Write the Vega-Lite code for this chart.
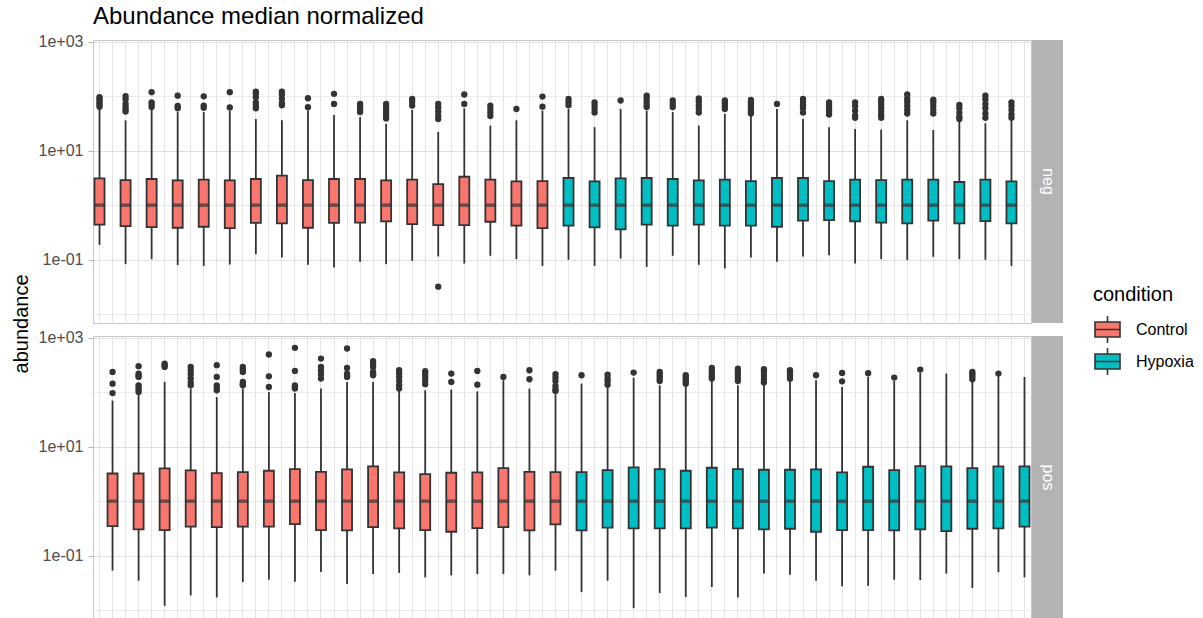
{
  "$schema": "https://vega.github.io/schema/vega-lite/v6.json",
  "padding": {"left": 12, "top": 5, "right": 0, "bottom": 0},
  "title": {"text": "Abundance median normalized", "anchor": "start", "frame": "group", "dx": 81, "offset": 4, "fontSize": 24, "fontWeight": "normal", "color": "#000000"},
  "config": {
    "font": "Liberation Sans",
    "view": {"stroke": "#c6c6c6", "strokeWidth": 1}
  },
  "datasets": {
    "boxes": [
      {"sample": "C01_neg", "mode": "neg", "condition": "Control", "lower": 0.187, "q1": 0.438, "median": 1, "q3": 3.10, "upper": 58},
      {"sample": "C02_neg", "mode": "neg", "condition": "Control", "lower": 0.0828, "q1": 0.413, "median": 1, "q3": 2.89, "upper": 36},
      {"sample": "C03_neg", "mode": "neg", "condition": "Control", "lower": 0.102, "q1": 0.396, "median": 1, "q3": 3.02, "upper": 60},
      {"sample": "C04_neg", "mode": "neg", "condition": "Control", "lower": 0.0794, "q1": 0.385, "median": 1, "q3": 2.85, "upper": 51},
      {"sample": "C05_neg", "mode": "neg", "condition": "Control", "lower": 0.077, "q1": 0.402, "median": 1, "q3": 2.93, "upper": 51},
      {"sample": "C06_neg", "mode": "neg", "condition": "Control", "lower": 0.0817, "q1": 0.379, "median": 1, "q3": 2.85, "upper": 54},
      {"sample": "C07_neg", "mode": "neg", "condition": "Control", "lower": 0.126, "q1": 0.475, "median": 1, "q3": 3.02, "upper": 38},
      {"sample": "C08_neg", "mode": "neg", "condition": "Control", "lower": 0.110, "q1": 0.462, "median": 1, "q3": 3.47, "upper": 36},
      {"sample": "C09_neg", "mode": "neg", "condition": "Control", "lower": 0.0805, "q1": 0.385, "median": 1, "q3": 2.89, "upper": 54},
      {"sample": "C10_neg", "mode": "neg", "condition": "Control", "lower": 0.0719, "q1": 0.475, "median": 1, "q3": 3.02, "upper": 45},
      {"sample": "C11_neg", "mode": "neg", "condition": "Control", "lower": 0.0914, "q1": 0.48, "median": 1, "q3": 3.02, "upper": 41},
      {"sample": "C12_neg", "mode": "neg", "condition": "Control", "lower": 0.0828, "q1": 0.503, "median": 1, "q3": 2.85, "upper": 31},
      {"sample": "C13_neg", "mode": "neg", "condition": "Control", "lower": 0.0953, "q1": 0.45, "median": 1, "q3": 2.93, "upper": 56},
      {"sample": "C14_neg", "mode": "neg", "condition": "Control", "lower": 0.1146, "q1": 0.431, "median": 1, "q3": 2.44, "upper": 22},
      {"sample": "C15_neg", "mode": "neg", "condition": "Control", "lower": 0.0851, "q1": 0.431, "median": 1, "q3": 3.32, "upper": 60},
      {"sample": "C16_neg", "mode": "neg", "condition": "Control", "lower": 0.118, "q1": 0.496, "median": 1, "q3": 2.93, "upper": 28.8},
      {"sample": "C17_neg", "mode": "neg", "condition": "Control", "lower": 0.102, "q1": 0.42, "median": 1, "q3": 2.73, "upper": 36},
      {"sample": "C18_neg", "mode": "neg", "condition": "Control", "lower": 0.077, "q1": 0.379, "median": 1, "q3": 2.77, "upper": 54},
      {"sample": "H01_neg", "mode": "neg", "condition": "Hypoxia", "lower": 0.0995, "q1": 0.42, "median": 1, "q3": 3.15, "upper": 58},
      {"sample": "H02_neg", "mode": "neg", "condition": "Hypoxia", "lower": 0.077, "q1": 0.39, "median": 1, "q3": 2.73, "upper": 27},
      {"sample": "H03_neg", "mode": "neg", "condition": "Hypoxia", "lower": 0.105, "q1": 0.36, "median": 1, "q3": 3.10, "upper": 58},
      {"sample": "H04_neg", "mode": "neg", "condition": "Hypoxia", "lower": 0.0739, "q1": 0.438, "median": 1, "q3": 3.15, "upper": 54},
      {"sample": "H05_neg", "mode": "neg", "condition": "Hypoxia", "lower": 0.118, "q1": 0.42, "median": 1, "q3": 3.02, "upper": 51},
      {"sample": "H06_neg", "mode": "neg", "condition": "Hypoxia", "lower": 0.0805, "q1": 0.438, "median": 1, "q3": 2.85, "upper": 28.8},
      {"sample": "H07_neg", "mode": "neg", "condition": "Hypoxia", "lower": 0.069, "q1": 0.42, "median": 1, "q3": 2.93, "upper": 47},
      {"sample": "H08_neg", "mode": "neg", "condition": "Hypoxia", "lower": 0.110, "q1": 0.42, "median": 1, "q3": 2.77, "upper": 44},
      {"sample": "H09_neg", "mode": "neg", "condition": "Hypoxia", "lower": 0.0914, "q1": 0.402, "median": 1, "q3": 3.15, "upper": 58},
      {"sample": "H10_neg", "mode": "neg", "condition": "Hypoxia", "lower": 0.1146, "q1": 0.52, "median": 1, "q3": 3.15, "upper": 38},
      {"sample": "H11_neg", "mode": "neg", "condition": "Hypoxia", "lower": 0.121, "q1": 0.532, "median": 1, "q3": 2.77, "upper": 27},
      {"sample": "H12_neg", "mode": "neg", "condition": "Hypoxia", "lower": 0.0851, "q1": 0.503, "median": 1, "q3": 2.93, "upper": 25},
      {"sample": "H13_neg", "mode": "neg", "condition": "Hypoxia", "lower": 0.102, "q1": 0.48, "median": 1, "q3": 2.89, "upper": 24.3},
      {"sample": "H14_neg", "mode": "neg", "condition": "Hypoxia", "lower": 0.098, "q1": 0.462, "median": 1, "q3": 2.93, "upper": 36},
      {"sample": "H15_neg", "mode": "neg", "condition": "Hypoxia", "lower": 0.113, "q1": 0.52, "median": 1, "q3": 2.93, "upper": 24},
      {"sample": "H16_neg", "mode": "neg", "condition": "Hypoxia", "lower": 0.102, "q1": 0.462, "median": 1, "q3": 2.66, "upper": 36},
      {"sample": "H17_neg", "mode": "neg", "condition": "Hypoxia", "lower": 0.0995, "q1": 0.51, "median": 1, "q3": 2.93, "upper": 31.8},
      {"sample": "H18_neg", "mode": "neg", "condition": "Hypoxia", "lower": 0.077, "q1": 0.462, "median": 1, "q3": 2.73, "upper": 36},
      {"sample": "C01_pos", "mode": "pos", "condition": "Control", "lower": 0.0532, "q1": 0.349, "median": 1, "q3": 3.22, "upper": 70},
      {"sample": "C02_pos", "mode": "pos", "condition": "Control", "lower": 0.0348, "q1": 0.303, "median": 1, "q3": 3.22, "upper": 92},
      {"sample": "C03_pos", "mode": "pos", "condition": "Control", "lower": 0.0120, "q1": 0.295, "median": 1, "q3": 3.98, "upper": 154},
      {"sample": "C04_pos", "mode": "pos", "condition": "Control", "lower": 0.0187, "q1": 0.34, "median": 1, "q3": 3.66, "upper": 116},
      {"sample": "C05_pos", "mode": "pos", "condition": "Control", "lower": 0.0171, "q1": 0.335, "median": 1, "q3": 3.27, "upper": 81},
      {"sample": "C06_pos", "mode": "pos", "condition": "Control", "lower": 0.0329, "q1": 0.34, "median": 1, "q3": 3.41, "upper": 116},
      {"sample": "C07_pos", "mode": "pos", "condition": "Control", "lower": 0.0363, "q1": 0.34, "median": 1, "q3": 3.61, "upper": 100},
      {"sample": "C08_pos", "mode": "pos", "condition": "Control", "lower": 0.0333, "q1": 0.38, "median": 1, "q3": 3.87, "upper": 96},
      {"sample": "C09_pos", "mode": "pos", "condition": "Control", "lower": 0.0503, "q1": 0.295, "median": 1, "q3": 3.46, "upper": 116},
      {"sample": "C10_pos", "mode": "pos", "condition": "Control", "lower": 0.0302, "q1": 0.291, "median": 1, "q3": 3.82, "upper": 154},
      {"sample": "C11_pos", "mode": "pos", "condition": "Control", "lower": 0.0462, "q1": 0.335, "median": 1, "q3": 4.34, "upper": 154},
      {"sample": "C12_pos", "mode": "pos", "condition": "Control", "lower": 0.0482, "q1": 0.316, "median": 1, "q3": 3.36, "upper": 108},
      {"sample": "C13_pos", "mode": "pos", "condition": "Control", "lower": 0.0401, "q1": 0.295, "median": 1, "q3": 3.13, "upper": 108},
      {"sample": "C14_pos", "mode": "pos", "condition": "Control", "lower": 0.0436, "q1": 0.275, "median": 1, "q3": 3.32, "upper": 111},
      {"sample": "C15_pos", "mode": "pos", "condition": "Control", "lower": 0.0462, "q1": 0.321, "median": 1, "q3": 3.36, "upper": 103},
      {"sample": "C16_pos", "mode": "pos", "condition": "Control", "lower": 0.0462, "q1": 0.335, "median": 1, "q3": 4.04, "upper": 165},
      {"sample": "C17_pos", "mode": "pos", "condition": "Control", "lower": 0.0436, "q1": 0.291, "median": 1, "q3": 3.46, "upper": 116},
      {"sample": "C18_pos", "mode": "pos", "condition": "Control", "lower": 0.0532, "q1": 0.375, "median": 1, "q3": 3.41, "upper": 91},
      {"sample": "H01_pos", "mode": "pos", "condition": "Hypoxia", "lower": 0.0215, "q1": 0.291, "median": 1, "q3": 3.41, "upper": 143},
      {"sample": "H02_pos", "mode": "pos", "condition": "Hypoxia", "lower": 0.0348, "q1": 0.326, "median": 1, "q3": 3.71, "upper": 124},
      {"sample": "H03_pos", "mode": "pos", "condition": "Hypoxia", "lower": 0.0109, "q1": 0.316, "median": 1, "q3": 4.16, "upper": 184},
      {"sample": "H04_pos", "mode": "pos", "condition": "Hypoxia", "lower": 0.0206, "q1": 0.316, "median": 1, "q3": 3.87, "upper": 133},
      {"sample": "H05_pos", "mode": "pos", "condition": "Hypoxia", "lower": 0.0174, "q1": 0.316, "median": 1, "q3": 3.61, "upper": 135},
      {"sample": "H06_pos", "mode": "pos", "condition": "Hypoxia", "lower": 0.0266, "q1": 0.326, "median": 1, "q3": 4.10, "upper": 160},
      {"sample": "H07_pos", "mode": "pos", "condition": "Hypoxia", "lower": 0.0171, "q1": 0.316, "median": 1, "q3": 3.87, "upper": 133},
      {"sample": "H08_pos", "mode": "pos", "condition": "Hypoxia", "lower": 0.0469, "q1": 0.303, "median": 1, "q3": 3.77, "upper": 143},
      {"sample": "H09_pos", "mode": "pos", "condition": "Hypoxia", "lower": 0.0449, "q1": 0.312, "median": 1, "q3": 3.77, "upper": 154},
      {"sample": "H10_pos", "mode": "pos", "condition": "Hypoxia", "lower": 0.0348, "q1": 0.275, "median": 1, "q3": 3.82, "upper": 165},
      {"sample": "H11_pos", "mode": "pos", "condition": "Hypoxia", "lower": 0.0274, "q1": 0.295, "median": 1, "q3": 3.36, "upper": 124},
      {"sample": "H12_pos", "mode": "pos", "condition": "Hypoxia", "lower": 0.0281, "q1": 0.295, "median": 1, "q3": 4.28, "upper": 190},
      {"sample": "H13_pos", "mode": "pos", "condition": "Hypoxia", "lower": 0.0363, "q1": 0.291, "median": 1, "q3": 3.71, "upper": 160},
      {"sample": "H14_pos", "mode": "pos", "condition": "Hypoxia", "lower": 0.0358, "q1": 0.303, "median": 1, "q3": 4.40, "upper": 225},
      {"sample": "H15_pos", "mode": "pos", "condition": "Hypoxia", "lower": 0.0469, "q1": 0.283, "median": 1, "q3": 4.34, "upper": 219},
      {"sample": "H16_pos", "mode": "pos", "condition": "Hypoxia", "lower": 0.0255, "q1": 0.312, "median": 1, "q3": 4.04, "upper": 165},
      {"sample": "H17_pos", "mode": "pos", "condition": "Hypoxia", "lower": 0.0496, "q1": 0.316, "median": 1, "q3": 4.34, "upper": 195},
      {"sample": "H18_pos", "mode": "pos", "condition": "Hypoxia", "lower": 0.0401, "q1": 0.34, "median": 1, "q3": 4.34, "upper": 190}
    ],
    "outliers": [
      {"sample": "C01_neg", "mode": "neg", "value": 64}, {"sample": "C01_neg", "mode": "neg", "value": 70}, {"sample": "C01_neg", "mode": "neg", "value": 76}, {"sample": "C01_neg", "mode": "neg", "value": 83}, {"sample": "C01_neg", "mode": "neg", "value": 90}, {"sample": "C01_neg", "mode": "neg", "value": 96},
      {"sample": "C02_neg", "mode": "neg", "value": 52}, {"sample": "C02_neg", "mode": "neg", "value": 57}, {"sample": "C02_neg", "mode": "neg", "value": 63}, {"sample": "C02_neg", "mode": "neg", "value": 72}, {"sample": "C02_neg", "mode": "neg", "value": 88}, {"sample": "C02_neg", "mode": "neg", "value": 100},
      {"sample": "C03_neg", "mode": "neg", "value": 63}, {"sample": "C03_neg", "mode": "neg", "value": 70}, {"sample": "C03_neg", "mode": "neg", "value": 77}, {"sample": "C03_neg", "mode": "neg", "value": 118},
      {"sample": "C04_neg", "mode": "neg", "value": 60}, {"sample": "C04_neg", "mode": "neg", "value": 66}, {"sample": "C04_neg", "mode": "neg", "value": 102},
      {"sample": "C05_neg", "mode": "neg", "value": 61}, {"sample": "C05_neg", "mode": "neg", "value": 67}, {"sample": "C05_neg", "mode": "neg", "value": 99},
      {"sample": "C06_neg", "mode": "neg", "value": 62}, {"sample": "C06_neg", "mode": "neg", "value": 118},
      {"sample": "C07_neg", "mode": "neg", "value": 60}, {"sample": "C07_neg", "mode": "neg", "value": 67}, {"sample": "C07_neg", "mode": "neg", "value": 77}, {"sample": "C07_neg", "mode": "neg", "value": 95}, {"sample": "C07_neg", "mode": "neg", "value": 110}, {"sample": "C07_neg", "mode": "neg", "value": 121},
      {"sample": "C08_neg", "mode": "neg", "value": 68}, {"sample": "C08_neg", "mode": "neg", "value": 75}, {"sample": "C08_neg", "mode": "neg", "value": 90}, {"sample": "C08_neg", "mode": "neg", "value": 108}, {"sample": "C08_neg", "mode": "neg", "value": 121},
      {"sample": "C09_neg", "mode": "neg", "value": 62.5}, {"sample": "C09_neg", "mode": "neg", "value": 91.5},
      {"sample": "C10_neg", "mode": "neg", "value": 72}, {"sample": "C10_neg", "mode": "neg", "value": 110},
      {"sample": "C11_neg", "mode": "neg", "value": 51}, {"sample": "C11_neg", "mode": "neg", "value": 57}, {"sample": "C11_neg", "mode": "neg", "value": 64}, {"sample": "C11_neg", "mode": "neg", "value": 72},
      {"sample": "C12_neg", "mode": "neg", "value": 39}, {"sample": "C12_neg", "mode": "neg", "value": 44}, {"sample": "C12_neg", "mode": "neg", "value": 50}, {"sample": "C12_neg", "mode": "neg", "value": 56}, {"sample": "C12_neg", "mode": "neg", "value": 64}, {"sample": "C12_neg", "mode": "neg", "value": 72},
      {"sample": "C13_neg", "mode": "neg", "value": 67}, {"sample": "C13_neg", "mode": "neg", "value": 78}, {"sample": "C13_neg", "mode": "neg", "value": 89},
      {"sample": "C14_neg", "mode": "neg", "value": 0.032}, {"sample": "C14_neg", "mode": "neg", "value": 38}, {"sample": "C14_neg", "mode": "neg", "value": 44}, {"sample": "C14_neg", "mode": "neg", "value": 52}, {"sample": "C14_neg", "mode": "neg", "value": 62}, {"sample": "C14_neg", "mode": "neg", "value": 72},
      {"sample": "C15_neg", "mode": "neg", "value": 72}, {"sample": "C15_neg", "mode": "neg", "value": 107},
      {"sample": "C16_neg", "mode": "neg", "value": 43}, {"sample": "C16_neg", "mode": "neg", "value": 50}, {"sample": "C16_neg", "mode": "neg", "value": 58}, {"sample": "C16_neg", "mode": "neg", "value": 67},
      {"sample": "C17_neg", "mode": "neg", "value": 58},
      {"sample": "C18_neg", "mode": "neg", "value": 64}, {"sample": "C18_neg", "mode": "neg", "value": 98},
      {"sample": "H01_neg", "mode": "neg", "value": 68}, {"sample": "H01_neg", "mode": "neg", "value": 78}, {"sample": "H01_neg", "mode": "neg", "value": 89},
      {"sample": "H02_neg", "mode": "neg", "value": 50}, {"sample": "H02_neg", "mode": "neg", "value": 58}, {"sample": "H02_neg", "mode": "neg", "value": 67}, {"sample": "H02_neg", "mode": "neg", "value": 77},
      {"sample": "H03_neg", "mode": "neg", "value": 83},
      {"sample": "H04_neg", "mode": "neg", "value": 63}, {"sample": "H04_neg", "mode": "neg", "value": 68}, {"sample": "H04_neg", "mode": "neg", "value": 78}, {"sample": "H04_neg", "mode": "neg", "value": 90}, {"sample": "H04_neg", "mode": "neg", "value": 102},
      {"sample": "H05_neg", "mode": "neg", "value": 63}, {"sample": "H05_neg", "mode": "neg", "value": 72}, {"sample": "H05_neg", "mode": "neg", "value": 83},
      {"sample": "H06_neg", "mode": "neg", "value": 50}, {"sample": "H06_neg", "mode": "neg", "value": 58}, {"sample": "H06_neg", "mode": "neg", "value": 68}, {"sample": "H06_neg", "mode": "neg", "value": 80}, {"sample": "H06_neg", "mode": "neg", "value": 91},
      {"sample": "H07_neg", "mode": "neg", "value": 58}, {"sample": "H07_neg", "mode": "neg", "value": 66}, {"sample": "H07_neg", "mode": "neg", "value": 74}, {"sample": "H07_neg", "mode": "neg", "value": 83},
      {"sample": "H08_neg", "mode": "neg", "value": 48}, {"sample": "H08_neg", "mode": "neg", "value": 52}, {"sample": "H08_neg", "mode": "neg", "value": 60}, {"sample": "H08_neg", "mode": "neg", "value": 68}, {"sample": "H08_neg", "mode": "neg", "value": 76}, {"sample": "H08_neg", "mode": "neg", "value": 85},
      {"sample": "H09_neg", "mode": "neg", "value": 72},
      {"sample": "H10_neg", "mode": "neg", "value": 50}, {"sample": "H10_neg", "mode": "neg", "value": 60}, {"sample": "H10_neg", "mode": "neg", "value": 68}, {"sample": "H10_neg", "mode": "neg", "value": 78}, {"sample": "H10_neg", "mode": "neg", "value": 89},
      {"sample": "H11_neg", "mode": "neg", "value": 46}, {"sample": "H11_neg", "mode": "neg", "value": 52}, {"sample": "H11_neg", "mode": "neg", "value": 60}, {"sample": "H11_neg", "mode": "neg", "value": 68}, {"sample": "H11_neg", "mode": "neg", "value": 77},
      {"sample": "H12_neg", "mode": "neg", "value": 40}, {"sample": "H12_neg", "mode": "neg", "value": 44}, {"sample": "H12_neg", "mode": "neg", "value": 54}, {"sample": "H12_neg", "mode": "neg", "value": 66}, {"sample": "H12_neg", "mode": "neg", "value": 77},
      {"sample": "H13_neg", "mode": "neg", "value": 40}, {"sample": "H13_neg", "mode": "neg", "value": 45}, {"sample": "H13_neg", "mode": "neg", "value": 52}, {"sample": "H13_neg", "mode": "neg", "value": 60}, {"sample": "H13_neg", "mode": "neg", "value": 70}, {"sample": "H13_neg", "mode": "neg", "value": 80}, {"sample": "H13_neg", "mode": "neg", "value": 89},
      {"sample": "H14_neg", "mode": "neg", "value": 48}, {"sample": "H14_neg", "mode": "neg", "value": 56}, {"sample": "H14_neg", "mode": "neg", "value": 66}, {"sample": "H14_neg", "mode": "neg", "value": 78}, {"sample": "H14_neg", "mode": "neg", "value": 90}, {"sample": "H14_neg", "mode": "neg", "value": 107},
      {"sample": "H15_neg", "mode": "neg", "value": 48}, {"sample": "H15_neg", "mode": "neg", "value": 56}, {"sample": "H15_neg", "mode": "neg", "value": 66}, {"sample": "H15_neg", "mode": "neg", "value": 76}, {"sample": "H15_neg", "mode": "neg", "value": 86},
      {"sample": "H16_neg", "mode": "neg", "value": 38}, {"sample": "H16_neg", "mode": "neg", "value": 42}, {"sample": "H16_neg", "mode": "neg", "value": 50}, {"sample": "H16_neg", "mode": "neg", "value": 60}, {"sample": "H16_neg", "mode": "neg", "value": 69},
      {"sample": "H17_neg", "mode": "neg", "value": 40}, {"sample": "H17_neg", "mode": "neg", "value": 48}, {"sample": "H17_neg", "mode": "neg", "value": 60}, {"sample": "H17_neg", "mode": "neg", "value": 72}, {"sample": "H17_neg", "mode": "neg", "value": 88}, {"sample": "H17_neg", "mode": "neg", "value": 102},
      {"sample": "H18_neg", "mode": "neg", "value": 40}, {"sample": "H18_neg", "mode": "neg", "value": 46}, {"sample": "H18_neg", "mode": "neg", "value": 56}, {"sample": "H18_neg", "mode": "neg", "value": 66}, {"sample": "H18_neg", "mode": "neg", "value": 77},
      {"sample": "C01_pos", "mode": "pos", "value": 96}, {"sample": "C01_pos", "mode": "pos", "value": 143}, {"sample": "C01_pos", "mode": "pos", "value": 235},
      {"sample": "C02_pos", "mode": "pos", "value": 100}, {"sample": "C02_pos", "mode": "pos", "value": 110}, {"sample": "C02_pos", "mode": "pos", "value": 120}, {"sample": "C02_pos", "mode": "pos", "value": 133}, {"sample": "C02_pos", "mode": "pos", "value": 190}, {"sample": "C02_pos", "mode": "pos", "value": 200}, {"sample": "C02_pos", "mode": "pos", "value": 219}, {"sample": "C02_pos", "mode": "pos", "value": 299},
      {"sample": "C03_pos", "mode": "pos", "value": 290}, {"sample": "C03_pos", "mode": "pos", "value": 310}, {"sample": "C03_pos", "mode": "pos", "value": 334},
      {"sample": "C04_pos", "mode": "pos", "value": 133}, {"sample": "C04_pos", "mode": "pos", "value": 150}, {"sample": "C04_pos", "mode": "pos", "value": 180}, {"sample": "C04_pos", "mode": "pos", "value": 215}, {"sample": "C04_pos", "mode": "pos", "value": 250}, {"sample": "C04_pos", "mode": "pos", "value": 290},
      {"sample": "C05_pos", "mode": "pos", "value": 108}, {"sample": "C05_pos", "mode": "pos", "value": 120}, {"sample": "C05_pos", "mode": "pos", "value": 133}, {"sample": "C05_pos", "mode": "pos", "value": 190}, {"sample": "C05_pos", "mode": "pos", "value": 312},
      {"sample": "C06_pos", "mode": "pos", "value": 133}, {"sample": "C06_pos", "mode": "pos", "value": 140}, {"sample": "C06_pos", "mode": "pos", "value": 154}, {"sample": "C06_pos", "mode": "pos", "value": 235}, {"sample": "C06_pos", "mode": "pos", "value": 260}, {"sample": "C06_pos", "mode": "pos", "value": 290},
      {"sample": "C07_pos", "mode": "pos", "value": 124}, {"sample": "C07_pos", "mode": "pos", "value": 195}, {"sample": "C07_pos", "mode": "pos", "value": 490},
      {"sample": "C08_pos", "mode": "pos", "value": 116}, {"sample": "C08_pos", "mode": "pos", "value": 124}, {"sample": "C08_pos", "mode": "pos", "value": 133}, {"sample": "C08_pos", "mode": "pos", "value": 245}, {"sample": "C08_pos", "mode": "pos", "value": 650},
      {"sample": "C09_pos", "mode": "pos", "value": 177}, {"sample": "C09_pos", "mode": "pos", "value": 210}, {"sample": "C09_pos", "mode": "pos", "value": 250}, {"sample": "C09_pos", "mode": "pos", "value": 290}, {"sample": "C09_pos", "mode": "pos", "value": 413},
      {"sample": "C10_pos", "mode": "pos", "value": 190}, {"sample": "C10_pos", "mode": "pos", "value": 200}, {"sample": "C10_pos", "mode": "pos", "value": 219}, {"sample": "C10_pos", "mode": "pos", "value": 278}, {"sample": "C10_pos", "mode": "pos", "value": 632},
      {"sample": "C11_pos", "mode": "pos", "value": 204}, {"sample": "C11_pos", "mode": "pos", "value": 215}, {"sample": "C11_pos", "mode": "pos", "value": 235}, {"sample": "C11_pos", "mode": "pos", "value": 290}, {"sample": "C11_pos", "mode": "pos", "value": 330}, {"sample": "C11_pos", "mode": "pos", "value": 369},
      {"sample": "C12_pos", "mode": "pos", "value": 116}, {"sample": "C12_pos", "mode": "pos", "value": 133}, {"sample": "C12_pos", "mode": "pos", "value": 160}, {"sample": "C12_pos", "mode": "pos", "value": 190}, {"sample": "C12_pos", "mode": "pos", "value": 220}, {"sample": "C12_pos", "mode": "pos", "value": 252},
      {"sample": "C13_pos", "mode": "pos", "value": 140}, {"sample": "C13_pos", "mode": "pos", "value": 165}, {"sample": "C13_pos", "mode": "pos", "value": 190}, {"sample": "C13_pos", "mode": "pos", "value": 215}, {"sample": "C13_pos", "mode": "pos", "value": 242},
      {"sample": "C14_pos", "mode": "pos", "value": 154}, {"sample": "C14_pos", "mode": "pos", "value": 219},
      {"sample": "C15_pos", "mode": "pos", "value": 137}, {"sample": "C15_pos", "mode": "pos", "value": 245},
      {"sample": "C16_pos", "mode": "pos", "value": 190},
      {"sample": "C17_pos", "mode": "pos", "value": 172}, {"sample": "C17_pos", "mode": "pos", "value": 252},
      {"sample": "C18_pos", "mode": "pos", "value": 105}, {"sample": "C18_pos", "mode": "pos", "value": 112}, {"sample": "C18_pos", "mode": "pos", "value": 130}, {"sample": "C18_pos", "mode": "pos", "value": 160}, {"sample": "C18_pos", "mode": "pos", "value": 185}, {"sample": "C18_pos", "mode": "pos", "value": 213},
      {"sample": "H01_pos", "mode": "pos", "value": 204},
      {"sample": "H02_pos", "mode": "pos", "value": 137}, {"sample": "H02_pos", "mode": "pos", "value": 158}, {"sample": "H02_pos", "mode": "pos", "value": 180}, {"sample": "H02_pos", "mode": "pos", "value": 210},
      {"sample": "H03_pos", "mode": "pos", "value": 228},
      {"sample": "H04_pos", "mode": "pos", "value": 160}, {"sample": "H04_pos", "mode": "pos", "value": 175}, {"sample": "H04_pos", "mode": "pos", "value": 195}, {"sample": "H04_pos", "mode": "pos", "value": 215}, {"sample": "H04_pos", "mode": "pos", "value": 235},
      {"sample": "H05_pos", "mode": "pos", "value": 143}, {"sample": "H05_pos", "mode": "pos", "value": 155}, {"sample": "H05_pos", "mode": "pos", "value": 170}, {"sample": "H05_pos", "mode": "pos", "value": 185}, {"sample": "H05_pos", "mode": "pos", "value": 204},
      {"sample": "H06_pos", "mode": "pos", "value": 177}, {"sample": "H06_pos", "mode": "pos", "value": 195}, {"sample": "H06_pos", "mode": "pos", "value": 220}, {"sample": "H06_pos", "mode": "pos", "value": 250}, {"sample": "H06_pos", "mode": "pos", "value": 278},
      {"sample": "H07_pos", "mode": "pos", "value": 160}, {"sample": "H07_pos", "mode": "pos", "value": 185}, {"sample": "H07_pos", "mode": "pos", "value": 210}, {"sample": "H07_pos", "mode": "pos", "value": 240}, {"sample": "H07_pos", "mode": "pos", "value": 270},
      {"sample": "H08_pos", "mode": "pos", "value": 150}, {"sample": "H08_pos", "mode": "pos", "value": 170}, {"sample": "H08_pos", "mode": "pos", "value": 200}, {"sample": "H08_pos", "mode": "pos", "value": 235}, {"sample": "H08_pos", "mode": "pos", "value": 263},
      {"sample": "H09_pos", "mode": "pos", "value": 175}, {"sample": "H09_pos", "mode": "pos", "value": 200}, {"sample": "H09_pos", "mode": "pos", "value": 230}, {"sample": "H09_pos", "mode": "pos", "value": 252},
      {"sample": "H10_pos", "mode": "pos", "value": 204},
      {"sample": "H11_pos", "mode": "pos", "value": 158}, {"sample": "H11_pos", "mode": "pos", "value": 225},
      {"sample": "H12_pos", "mode": "pos", "value": 222},
      {"sample": "H13_pos", "mode": "pos", "value": 185},
      {"sample": "H14_pos", "mode": "pos", "value": 259},
      {"sample": "H16_pos", "mode": "pos", "value": 172}, {"sample": "H16_pos", "mode": "pos", "value": 195}, {"sample": "H16_pos", "mode": "pos", "value": 215}, {"sample": "H16_pos", "mode": "pos", "value": 235},
      {"sample": "H17_pos", "mode": "pos", "value": 219}
    ]
  },
  "bounds": "flush",
  "spacing": 61,
  "hconcat": [
    {
      "width": 20,
      "height": 568,
      "view": {"stroke": null},
      "data": {"values": [{"label": "abundance"}]},
      "mark": {"type": "text", "angle": 270, "fontSize": 20, "align": "center", "baseline": "middle", "color": "#000000"},
      "encoding": {"text": {"field": "label"}}
    },
    {
      "spacing": 5,
      "vconcat": [
        {
          "bounds": "flush",
          "spacing": 1,
          "hconcat": [
            {
              "width": 938,
              "height": 283,
              "encoding": {
                "x": {"field": "sample", "type": "nominal", "title": null,
                  "scale": {"type": "band", "paddingInner": 0, "paddingOuter": 0, "domain": ["C01_neg","C01_pos","C02_neg","C02_pos","C03_neg","C03_pos","C04_neg","C04_pos","C05_neg","C05_pos","C06_neg","C06_pos","C07_neg","C07_pos","C08_neg","C08_pos","C09_neg","C09_pos","C10_neg","C10_pos","C11_neg","C11_pos","C12_neg","C12_pos","C13_neg","C13_pos","C14_neg","C14_pos","C15_neg","C15_pos","C16_neg","C16_pos","C17_neg","C17_pos","C18_neg","C18_pos","H01_neg","H01_pos","H02_neg","H02_pos","H03_neg","H03_pos","H04_neg","H04_pos","H05_neg","H05_pos","H06_neg","H06_pos","H07_neg","H07_pos","H08_neg","H08_pos","H09_neg","H09_pos","H10_neg","H10_pos","H11_neg","H11_pos","H12_neg","H12_pos","H13_neg","H13_pos","H14_neg","H14_pos","H15_neg","H15_pos","H16_neg","H16_pos","H17_neg","H17_pos","H18_neg","H18_pos"]},
                  "axis": {"labels": false, "ticks": false, "domain": false, "title": null, "grid": true, "gridColor": "#e4e4e4", "gridWidth": 1, "bandPosition": 0.5}}
              },
              "layer": [
                {
                  "data": {"name": "boxes"},
                  "transform": [{"filter": "datum.mode === 'neg'"}],
                  "mark": {"type": "rule", "color": "#333333", "strokeWidth": 1.8},
                  "encoding": {
                    "y": {"field": "lower", "type": "quantitative", "title": null,
                      "scale": {"type": "log", "domain": [0.0069, 1070], "nice": false},
                      "axis": {"values": [0.01, 0.1, 1, 10, 100, 1000], "title": null, "domain": false, "labelOverlap": false, "labelFlush": false,
                        "labelExpr": "datum.value == 1000 ? '1e+03' : datum.value == 10 ? '1e+01' : datum.value == 0.1 ? '1e-01' : ''",
                        "labelFontSize": 16, "labelColor": "#4d4d4d", "labelPadding": 5, "tickSize": 5,
                        "tickColor": {"condition": {"test": "datum.value == 1000 || datum.value == 10 || datum.value == 0.1", "value": "#b3b3b3"}, "value": "transparent"},
                        "gridColor": {"condition": {"test": "datum.value == 1000 || datum.value == 10 || datum.value == 0.1", "value": "#e0e0e0"}, "value": "#ececec"}}},
                    "y2": {"field": "upper"}
                  }
                },
                {
                  "data": {"name": "boxes"},
                  "transform": [{"filter": "datum.mode === 'neg'"}],
                  "mark": {"type": "bar", "width": {"band": 0.77}, "stroke": "#333333", "strokeWidth": 1.8},
                  "encoding": {
                    "y": {"field": "q1", "type": "quantitative", "title": null},
                    "y2": {"field": "q3"},
                    "fill": {"field": "condition", "type": "nominal",
                      "scale": {"domain": ["Control", "Hypoxia"], "range": ["#F8766D", "#00BFC4"]},
                      "legend": {"orient": "none", "legendX": 1081, "legendY": 245, "title": "condition", "titleFontSize": 20, "titleFontWeight": "normal", "titleColor": "#000000", "titlePadding": 10,
                        "labelFontSize": 16, "labelColor": "#000000", "labelOffset": 14, "rowPadding": -4,
                        "symbolType": "M-0.926,-0.556H0.926V0.556H-0.926Z M-0.926,0H0.926 M0,-0.556V-1 M0,0.556V1",
                        "symbolSize": 729, "symbolStrokeColor": "#333333", "symbolStrokeWidth": 1.6, "symbolOpacity": 1}}
                  }
                },
                {
                  "data": {"name": "boxes"},
                  "transform": [{"filter": "datum.mode === 'neg'"}],
                  "mark": {"type": "tick", "color": "#333333", "thickness": 3.4, "size": 10.5},
                  "encoding": {"y": {"field": "median", "type": "quantitative", "title": null}}
                },
                {
                  "data": {"name": "outliers"},
                  "transform": [{"filter": "datum.mode === 'neg'"}],
                  "mark": {"type": "circle", "size": 40, "color": "#333333", "opacity": 1},
                  "encoding": {"y": {"field": "value", "type": "quantitative", "title": null}}
                }
              ]
            },
            {
              "width": 31,
              "height": 283,
              "view": {"fill": "#b3b3b3", "stroke": null},
              "data": {"values": [{"panel": "neg"}]},
              "mark": {"type": "text", "angle": 90, "fontSize": 16, "align": "center", "baseline": "middle", "color": "#ffffff"},
              "encoding": {"text": {"field": "panel"}}
            }
          ]
        },
        {
          "bounds": "flush",
          "spacing": 1,
          "hconcat": [
            {
              "width": 938,
              "height": 283,
              "encoding": {
                "x": {"field": "sample", "type": "nominal", "title": null,
                  "scale": {"type": "band", "paddingInner": 0, "paddingOuter": 0, "domain": ["C01_neg","C01_pos","C02_neg","C02_pos","C03_neg","C03_pos","C04_neg","C04_pos","C05_neg","C05_pos","C06_neg","C06_pos","C07_neg","C07_pos","C08_neg","C08_pos","C09_neg","C09_pos","C10_neg","C10_pos","C11_neg","C11_pos","C12_neg","C12_pos","C13_neg","C13_pos","C14_neg","C14_pos","C15_neg","C15_pos","C16_neg","C16_pos","C17_neg","C17_pos","C18_neg","C18_pos","H01_neg","H01_pos","H02_neg","H02_pos","H03_neg","H03_pos","H04_neg","H04_pos","H05_neg","H05_pos","H06_neg","H06_pos","H07_neg","H07_pos","H08_neg","H08_pos","H09_neg","H09_pos","H10_neg","H10_pos","H11_neg","H11_pos","H12_neg","H12_pos","H13_neg","H13_pos","H14_neg","H14_pos","H15_neg","H15_pos","H16_neg","H16_pos","H17_neg","H17_pos","H18_neg","H18_pos"]},
                  "axis": {"labels": false, "ticks": false, "domain": false, "title": null, "grid": true, "gridColor": "#e4e4e4", "gridWidth": 1, "bandPosition": 0.5}}
              },
              "layer": [
                {
                  "data": {"name": "boxes"},
                  "transform": [{"filter": "datum.mode === 'pos'"}],
                  "mark": {"type": "rule", "color": "#333333", "strokeWidth": 1.8},
                  "encoding": {
                    "y": {"field": "lower", "type": "quantitative", "title": null,
                      "scale": {"type": "log", "domain": [0.0069, 1070], "nice": false},
                      "axis": {"values": [0.01, 0.1, 1, 10, 100, 1000], "title": null, "domain": false, "labelOverlap": false, "labelFlush": false,
                        "labelExpr": "datum.value == 1000 ? '1e+03' : datum.value == 10 ? '1e+01' : datum.value == 0.1 ? '1e-01' : ''",
                        "labelFontSize": 16, "labelColor": "#4d4d4d", "labelPadding": 5, "tickSize": 5,
                        "tickColor": {"condition": {"test": "datum.value == 1000 || datum.value == 10 || datum.value == 0.1", "value": "#b3b3b3"}, "value": "transparent"},
                        "gridColor": {"condition": {"test": "datum.value == 1000 || datum.value == 10 || datum.value == 0.1", "value": "#e0e0e0"}, "value": "#ececec"}}},
                    "y2": {"field": "upper"}
                  }
                },
                {
                  "data": {"name": "boxes"},
                  "transform": [{"filter": "datum.mode === 'pos'"}],
                  "mark": {"type": "bar", "width": {"band": 0.77}, "stroke": "#333333", "strokeWidth": 1.8},
                  "encoding": {
                    "y": {"field": "q1", "type": "quantitative", "title": null},
                    "y2": {"field": "q3"},
                    "fill": {"field": "condition", "type": "nominal",
                      "scale": {"domain": ["Control", "Hypoxia"], "range": ["#F8766D", "#00BFC4"]},
                      "legend": {"orient": "none", "legendX": 1081, "legendY": 245, "title": "condition", "titleFontSize": 20, "titleFontWeight": "normal", "titleColor": "#000000", "titlePadding": 10,
                        "labelFontSize": 16, "labelColor": "#000000", "labelOffset": 14, "rowPadding": -4,
                        "symbolType": "M-0.926,-0.556H0.926V0.556H-0.926Z M-0.926,0H0.926 M0,-0.556V-1 M0,0.556V1",
                        "symbolSize": 729, "symbolStrokeColor": "#333333", "symbolStrokeWidth": 1.6, "symbolOpacity": 1}}
                  }
                },
                {
                  "data": {"name": "boxes"},
                  "transform": [{"filter": "datum.mode === 'pos'"}],
                  "mark": {"type": "tick", "color": "#333333", "thickness": 3.4, "size": 10.5},
                  "encoding": {"y": {"field": "median", "type": "quantitative", "title": null}}
                },
                {
                  "data": {"name": "outliers"},
                  "transform": [{"filter": "datum.mode === 'pos'"}],
                  "mark": {"type": "circle", "size": 40, "color": "#333333", "opacity": 1},
                  "encoding": {"y": {"field": "value", "type": "quantitative", "title": null}}
                }
              ]
            },
            {
              "width": 31,
              "height": 283,
              "view": {"fill": "#b3b3b3", "stroke": null},
              "data": {"values": [{"panel": "pos"}]},
              "mark": {"type": "text", "angle": 90, "fontSize": 16, "align": "center", "baseline": "middle", "color": "#ffffff"},
              "encoding": {"text": {"field": "panel"}}
            }
          ]
        }
      ]
    }
  ]
}
